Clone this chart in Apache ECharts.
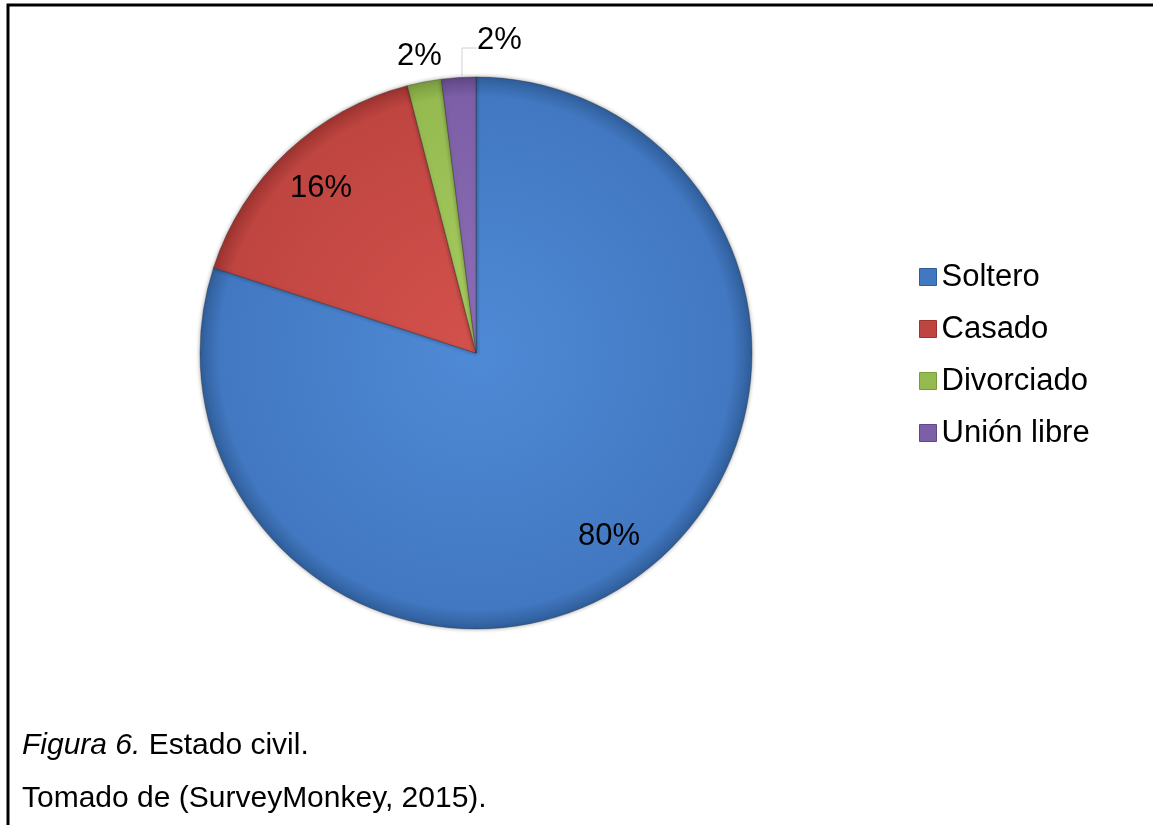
<!DOCTYPE html>
<html>
<head>
<meta charset="utf-8">
<script src="https://cdn.jsdelivr.net/npm/echarts@6/dist/echarts.min.js"></script>
<style>
  html, body { margin: 0; padding: 0; background: #fff; }
  #grafica-estado-civil { width: 1153px; height: 825px; }
</style>
</head>
<body>
<div id="grafica-estado-civil"></div>
<script>
var categorias = ["Soltero", "Casado", "Divorciado", "Unión libre"];
var porcentajes = [80, 16, 2, 2];

var centro = [476, 353];
var radio = 276;

var colores = {
  Soltero: ["#4f8ad6", "#4278c1", "#2f5e9b"],
  Casado: ["#d4514c", "#bf4541", "#9c332f"],
  Divorciado: ["#a8cd60", "#95ba50", "#789b3c"],
  "Unión libre": ["#8f6fb8", "#7c5fa6", "#614786"]
};

document.addEventListener("DOMContentLoaded", function () {
  cargarGraficaEstadoCivil();
});

// angulo medio (grados, sentido horario desde arriba) de cada porcion
function anguloMedio(indice) {
  var total = porcentajes.reduce(function (a, b) { return a + b; }, 0);
  var acumulado = 0;
  for (var i = 0; i < indice; i++) acumulado += porcentajes[i];
  return ((acumulado + porcentajes[indice] / 2) / total) * 360;
}

function puntoEn(angulo, factor) {
  var rad = (angulo * Math.PI) / 180;
  return [
    centro[0] + Math.sin(rad) * radio * factor,
    centro[1] - Math.cos(rad) * radio * factor
  ];
}

function cargarGraficaEstadoCivil() {
  var chart = echarts.init(document.getElementById("grafica-estado-civil"));

  var datos = categorias.map(function (nombre, i) {
    var c = colores[nombre];
    return {
      name: nombre,
      value: porcentajes[i],
      itemStyle: {
        color: new echarts.graphic.RadialGradient(
          centro[0], centro[1], radio,
          [
            { offset: 0, color: c[0] },
            { offset: 0.93, color: c[1] },
            { offset: 1, color: c[2] }
          ],
          true
        )
      },
      label: { position: i === 3 ? "outside" : "inside" },
      labelLine: { show: i === 3 }
    };
  });

  var option = {
    backgroundColor: "#ffffff",
    textStyle: { fontFamily: "Liberation Sans, Arial, sans-serif" },
    title: [
      {
        text: "{i|Figura 6.} Estado civil.",
        left: 22,
        top: 731,
        padding: 0,
        textStyle: {
          fontSize: 30,
          fontWeight: "normal",
          color: "#000",
          rich: {
            i: { fontSize: 30, fontStyle: "italic", color: "#000" }
          }
        }
      },
      {
        text: "Tomado de (SurveyMonkey, 2015).",
        left: 22,
        top: 784,
        padding: 0,
        textStyle: { fontSize: 30, fontWeight: "normal", color: "#000" }
      }
    ],
    legend: {
      orient: "vertical",
      left: 914,
      top: 255,
      icon: "rect",
      itemWidth: 17,
      itemHeight: 17,
      itemGap: 18,
      selectedMode: false,
      textStyle: { fontSize: 31, color: "#000", lineHeight: 34 },
      data: categorias.map(function (nombre) {
        return { name: nombre, itemStyle: { color: colores[nombre][1], borderColor: colores[nombre][2], borderWidth: 1 } };
      })
    },
    graphic: [
      {
        type: "polyline",
        shape: { points: [[8, 825], [8, 5], [1153, 5]] },
        style: { stroke: "#000", lineWidth: 3, fill: null },
        silent: true
      }
    ],
    series: [
      {
        name: "Estado civil",
        type: "pie",
        center: centro,
        radius: radio,
        startAngle: 90,
        clockwise: true,
        animation: false,
        silent: true,
        data: datos,
        itemStyle: {
          borderColor: "rgba(40,40,40,0.45)",
          borderWidth: 0.8,
          shadowBlur: 4,
          shadowColor: "rgba(0,0,0,0.35)"
        },
        label: {
          show: true,
          color: "#000",
          fontSize: 31,
          formatter: function (p) { return p.value + "%"; }
        },
        labelLine: {
          show: false,
          lineStyle: { color: "#d0d0d0", width: 1 }
        },
        labelLayout: function (params) {
          var i = params.dataIndex;
          var ang = anguloMedio(i);
          if (i === 3) {
            var base = puntoEn(ang, 1);
            return {
              x: centro[0] + 1,
              y: centro[1] - radio - 37,
              align: "left",
              verticalAlign: "middle",
              labelLinePoints: [
                [centro[0] - 14, base[1] - 2],
                [centro[0] - 14, centro[1] - radio - 29],
                [centro[0] + 1, centro[1] - radio - 29]
              ]
            };
          }
          var factor = i === 2 ? 1.095 : 0.82;
          var p = puntoEn(ang, factor);
          return { x: p[0], y: p[1], align: "center", verticalAlign: "middle" };
        }
      }
    ]
  };

  chart.setOption(option);
}
</script>
</body>
</html>
